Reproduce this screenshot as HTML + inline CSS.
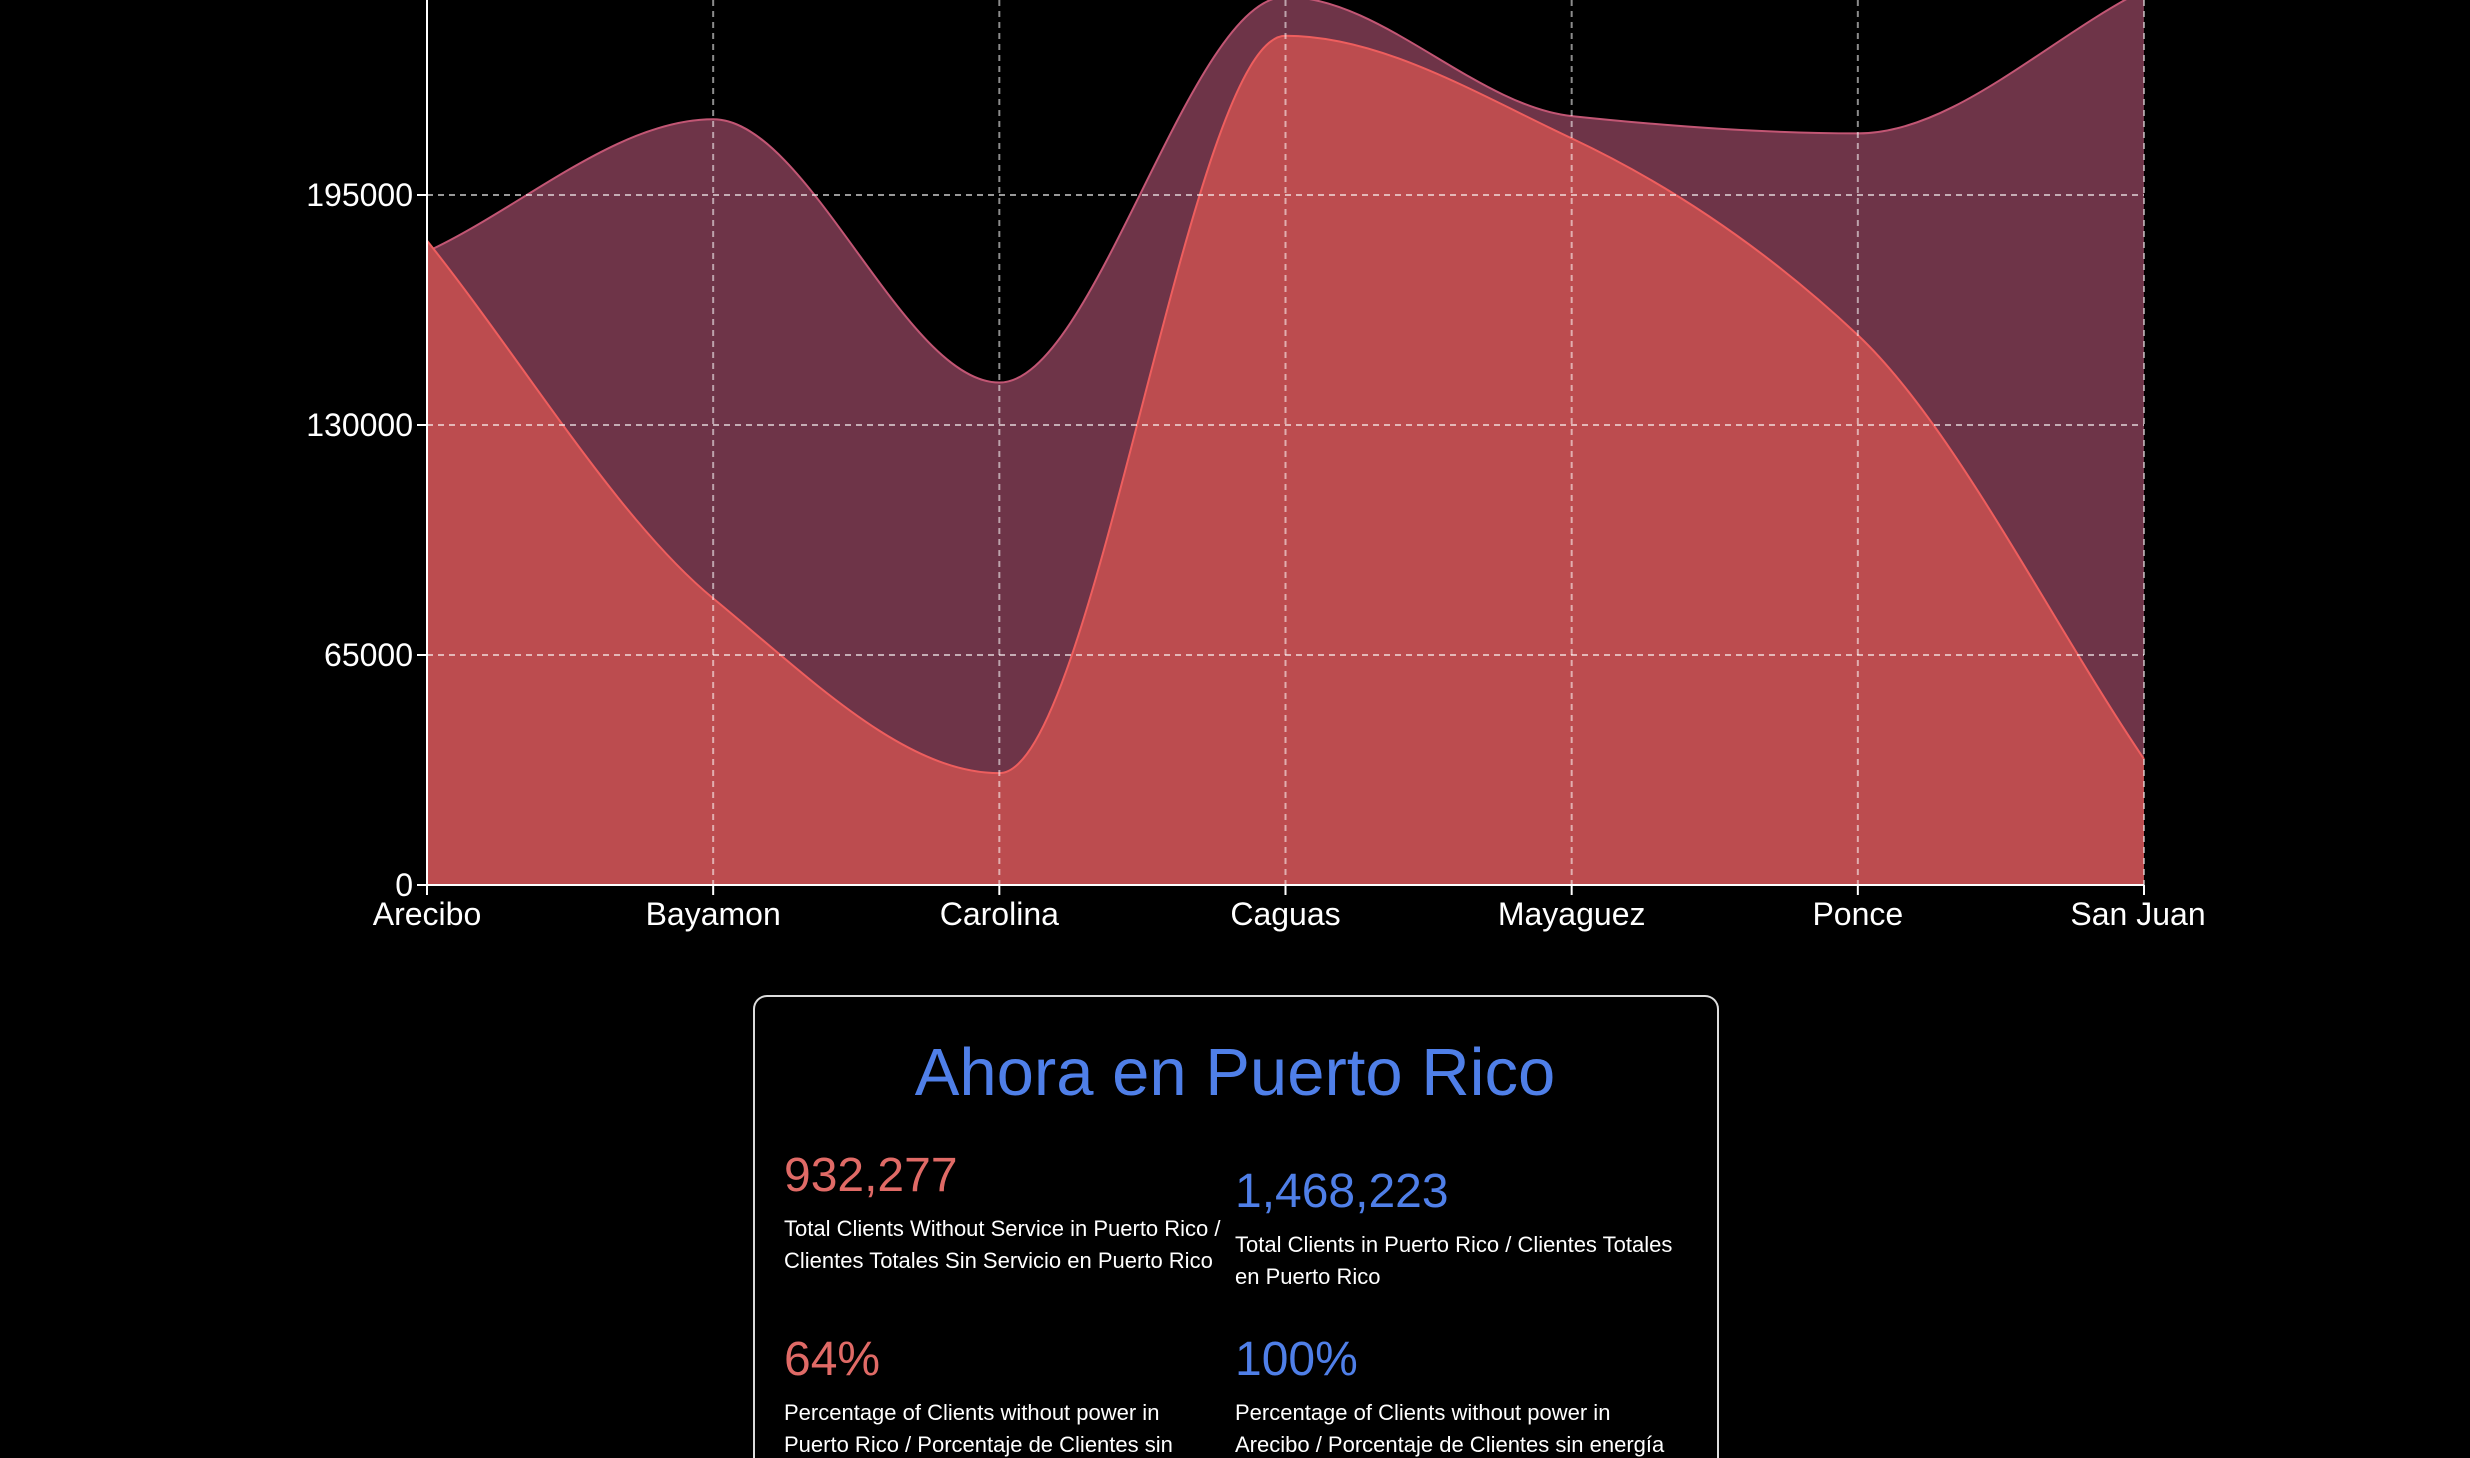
<!DOCTYPE html>
<html><head><meta charset="utf-8">
<style>
html,body{margin:0;padding:0;background:#000;width:2470px;height:1458px;overflow:hidden;}
body{position:relative;font-family:"Liberation Sans",sans-serif;color:#fff;}
svg{position:absolute;left:0;top:0;}
.card{position:absolute;left:753px;top:995px;width:966px;height:463px;border:2px solid #ddd;border-bottom:none;border-radius:14px 14px 0 0;box-sizing:border-box;}
.t{position:absolute;white-space:nowrap;line-height:1;}
.lbl{font-size:22px;line-height:31.5px;position:absolute;white-space:nowrap;}
</style></head>
<body>
<svg id="chart" width="2470" height="960"></svg>
<div class="card"></div>
<div class="t" style="left:0;width:2470px;text-align:center;top:1039px;font-size:67px;color:#4f7fe8;">Ahora en Puerto Rico</div>
<div class="t" style="left:784px;top:1152px;font-size:48px;color:#e06a66;">932,277</div>
<div class="lbl" style="left:784px;top:1213px;">Total Clients Without Service in Puerto Rico /<br>Clientes Totales Sin Servicio en Puerto Rico</div>
<div class="t" style="left:1235px;top:1168px;font-size:48px;color:#4f7fe8;">1,468,223</div>
<div class="lbl" style="left:1235px;top:1229px;">Total Clients in Puerto Rico / Clientes Totales<br>en Puerto Rico</div>
<div class="t" style="left:784px;top:1336px;font-size:48px;color:#e06a66;">64%</div>
<div class="lbl" style="left:784px;top:1397px;">Percentage of Clients without power in<br>Puerto Rico / Porcentaje de Clientes sin</div>
<div class="t" style="left:1235px;top:1336px;font-size:48px;color:#4f7fe8;">100%</div>
<div class="lbl" style="left:1235px;top:1397px;">Percentage of Clients without power in<br>Arecibo / Porcentaje de Clientes sin energía</div>
<script>
const categories=["Arecibo","Bayamon","Carolina","Caguas","Mayaguez","Ponce","San Juan"];
const totalClients=[179000,216400,142000,251000,217300,212400,253000];
const outClients=[182100,81000,31600,240000,211000,155400,35600];
const yTicks=[0,65000,130000,195000];

const NS="http://www.w3.org/2000/svg";
const svg=document.getElementById("chart");
const X0=427,X1=2144,Y0=885,PX_PER=230/65000;
const xs=i=>X0+(X1-X0)*i/(categories.length-1);
const ys=v=>Y0-v*PX_PER;
function mk(tag,attrs,parent){const e=document.createElementNS(NS,tag);for(const k in attrs)e.setAttribute(k,attrs[k]);(parent||svg).appendChild(e);return e;}
function monotone(pts){
  const n=pts.length,d=[],m=[];
  for(let i=0;i<n-1;i++)d.push((pts[i+1][1]-pts[i][1])/(pts[i+1][0]-pts[i][0]));
  for(let i=0;i<n;i++){
    if(i===0)m.push(d[0]);else if(i===n-1)m.push(d[n-2]);
    else m.push(d[i-1]*d[i]<=0?0:(2*d[i-1]*d[i]/(d[i-1]+d[i])));
  }
  let s="M"+pts[0][0]+","+pts[0][1];
  for(let i=0;i<n-1;i++){
    const h=(pts[i+1][0]-pts[i][0])/3;
    s+=" C"+(pts[i][0]+h)+","+(pts[i][1]+m[i]*h)+" "+(pts[i+1][0]-h)+","+(pts[i+1][1]-m[i+1]*h)+" "+pts[i+1][0]+","+pts[i+1][1];
  }
  return s;
}
const clip=mk("clipPath",{id:"c"});mk("rect",{x:0,y:0,width:2470,height:Y0},clip);
function area(vals,fill,stroke,name){
  const pts=vals.map((v,i)=>[xs(i),ys(v)]);
  const line=monotone(pts);
  const a=mk("path",{d:line+" L"+xs(vals.length-1)+","+Y0+" L"+X0+","+Y0+" Z",fill:fill,"clip-path":"url(#c)"});
  
  
  const l=mk("path",{d:line,fill:"none",stroke:stroke,"stroke-width":2,"clip-path":"url(#c)"});
  
  
}
area(totalClients,"#6e3448","#c25674","total-clients");
area(outClients,"#bc4c4f","#ee5e5e","clients-without-service");
yTicks.forEach(v=>{
  if(v===0)return;
  const g=mk("line",{x1:X0,x2:X1,y1:ys(v),y2:ys(v),stroke:"rgba(255,255,255,0.6)","stroke-width":2,"stroke-dasharray":"6,5"});
  
  
});
categories.forEach((c,i)=>{
  if(i===0)return;
  const g=mk("line",{x1:xs(i),x2:xs(i),y1:0,y2:Y0,stroke:"rgba(255,255,255,0.55)","stroke-width":2,"stroke-dasharray":"6,5"});
  
  
});
const ya=mk("line",{x1:X0,x2:X0,y1:0,y2:Y0,stroke:"#fff","stroke-width":2});


const xa=mk("line",{x1:X0,x2:X1,y1:Y0,y2:Y0,stroke:"#fff","stroke-width":2});


yTicks.forEach(v=>{
  mk("line",{x1:X0-10,x2:X0,y1:ys(v),y2:ys(v),stroke:"#fff","stroke-width":2});
  const t=mk("text",{x:X0-14,y:ys(v)+11,"text-anchor":"end",fill:"#fff","font-size":32,"font-family":"Liberation Sans, sans-serif"});
  t.textContent=v;
  
  
});
categories.forEach((c,i)=>{
  mk("line",{x1:xs(i),x2:xs(i),y1:Y0,y2:Y0+10,stroke:"#fff","stroke-width":2});
  const t=mk("text",{x:xs(i)-(i===6?6:0),y:Y0+40,"text-anchor":"middle",fill:"#fff","font-size":32,"font-family":"Liberation Sans, sans-serif"});
  t.textContent=c;
  
  
});
</script>
</body></html>
